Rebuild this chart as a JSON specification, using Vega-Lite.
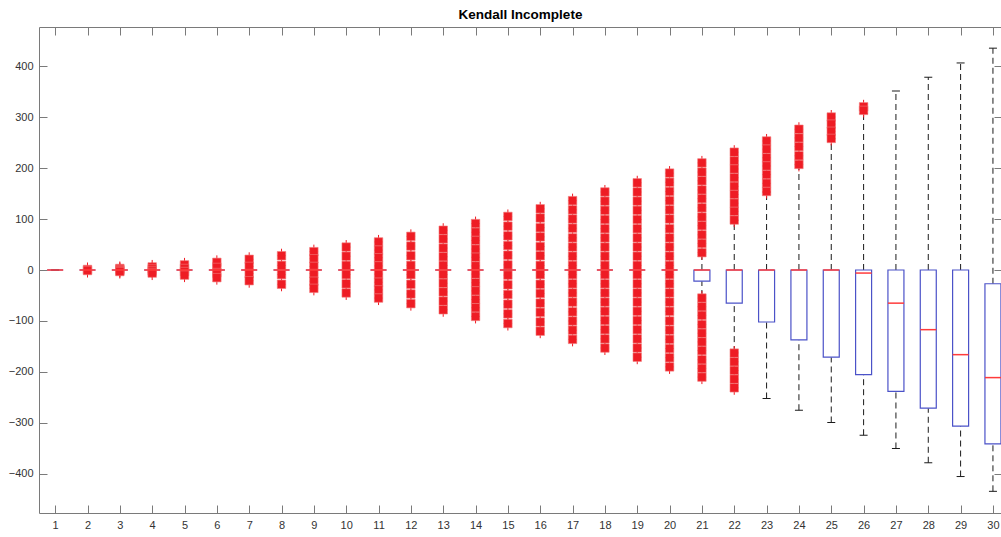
{
  "$schema": "https://vega.github.io/schema/vega-lite/v6.json",
  "width": 963,
  "height": 486,
  "autosize": {"type": "none"},
  "padding": {"left": 39, "top": 27, "right": 0, "bottom": 24},
  "background": "white",
  "title": {"text": "Kendall Incomplete", "font": "Liberation Sans", "fontSize": 13.5, "fontWeight": "bold", "color": "#000000", "anchor": "middle", "offset": 5},
  "config": {
    "view": {"stroke": "#7a7a7a", "strokeWidth": 1},
    "axis": {
      "domain": false,
      "grid": false,
      "tickColor": "#7a7a7a",
      "tickWidth": 1,
      "tickSize": -8,
      "labelFont": "Liberation Sans",
      "labelFontSize": 11,
      "labelColor": "#333333",
      "title": null
    }
  },
  "datasets": {
    "boxes": [
      {"n": 1, "q1": 0, "med": 0, "q3": 0, "lo": 0, "hi": 0},
      {"n": 2, "q1": 0, "med": 0, "q3": 0, "lo": 0, "hi": 0},
      {"n": 3, "q1": 0, "med": 0, "q3": 0, "lo": 0, "hi": 0},
      {"n": 4, "q1": 0, "med": 0, "q3": 0, "lo": 0, "hi": 0},
      {"n": 5, "q1": 0, "med": 0, "q3": 0, "lo": 0, "hi": 0},
      {"n": 6, "q1": 0, "med": 0, "q3": 0, "lo": 0, "hi": 0},
      {"n": 7, "q1": 0, "med": 0, "q3": 0, "lo": 0, "hi": 0},
      {"n": 8, "q1": 0, "med": 0, "q3": 0, "lo": 0, "hi": 0},
      {"n": 9, "q1": 0, "med": 0, "q3": 0, "lo": 0, "hi": 0},
      {"n": 10, "q1": 0, "med": 0, "q3": 0, "lo": 0, "hi": 0},
      {"n": 11, "q1": 0, "med": 0, "q3": 0, "lo": 0, "hi": 0},
      {"n": 12, "q1": 0, "med": 0, "q3": 0, "lo": 0, "hi": 0},
      {"n": 13, "q1": 0, "med": 0, "q3": 0, "lo": 0, "hi": 0},
      {"n": 14, "q1": 0, "med": 0, "q3": 0, "lo": 0, "hi": 0},
      {"n": 15, "q1": 0, "med": 0, "q3": 0, "lo": 0, "hi": 0},
      {"n": 16, "q1": 0, "med": 0, "q3": 0, "lo": 0, "hi": 0},
      {"n": 17, "q1": 0, "med": 0, "q3": 0, "lo": 0, "hi": 0},
      {"n": 18, "q1": 0, "med": 0, "q3": 0, "lo": 0, "hi": 0},
      {"n": 19, "q1": 0, "med": 0, "q3": 0, "lo": 0, "hi": 0},
      {"n": 20, "q1": 0, "med": 0, "q3": 0, "lo": 0, "hi": 0},
      {"n": 21, "q1": -22, "med": 0, "q3": 0, "lo": -51, "hi": 30},
      {"n": 22, "q1": -65, "med": 0, "q3": 0, "lo": -161, "hi": 97},
      {"n": 23, "q1": -102, "med": 0, "q3": 0, "lo": -252, "hi": 152},
      {"n": 24, "q1": -137, "med": 0, "q3": 0, "lo": -275, "hi": 206},
      {"n": 25, "q1": -171, "med": 0, "q3": 0, "lo": -299, "hi": 257},
      {"n": 26, "q1": -205, "med": -6, "q3": 0, "lo": -324, "hi": 307},
      {"n": 27, "q1": -238, "med": -65, "q3": 0, "lo": -350, "hi": 351},
      {"n": 28, "q1": -271, "med": -117, "q3": 0, "lo": -378, "hi": 378},
      {"n": 29, "q1": -306, "med": -166, "q3": 0, "lo": -405, "hi": 406},
      {"n": 30, "q1": -341, "med": -211, "q3": -27, "lo": -434, "hi": 435}
    ],
    "outliers": [
      {"n": 2, "v": 1}, {"n": 2, "v": -1},
      {"n": 3, "v": 3}, {"n": 3, "v": 1}, {"n": 3, "v": -1}, {"n": 3, "v": -3},
      {"n": 4, "v": 6}, {"n": 4, "v": 2}, {"n": 4, "v": -2}, {"n": 4, "v": -6},
      {"n": 5, "v": 10}, {"n": 5, "v": 3}, {"n": 5, "v": -3}, {"n": 5, "v": -10},
      {"n": 6, "v": 15}, {"n": 6, "v": 5}, {"n": 6, "v": -5}, {"n": 6, "v": -15},
      {"n": 7, "v": 21}, {"n": 7, "v": 7}, {"n": 7, "v": -7}, {"n": 7, "v": -21},
      {"n": 8, "v": 28}, {"n": 8, "v": 9}, {"n": 8, "v": -9}, {"n": 8, "v": -28},
      {"n": 9, "v": 36}, {"n": 9, "v": 22}, {"n": 9, "v": 7}, {"n": 9, "v": -7}, {"n": 9, "v": -22}, {"n": 9, "v": -36},
      {"n": 10, "v": 45}, {"n": 10, "v": 27}, {"n": 10, "v": 9}, {"n": 10, "v": -9}, {"n": 10, "v": -27}, {"n": 10, "v": -45},
      {"n": 11, "v": 55}, {"n": 11, "v": 39}, {"n": 11, "v": 24}, {"n": 11, "v": 8}, {"n": 11, "v": -8}, {"n": 11, "v": -24}, {"n": 11, "v": -39}, {"n": 11, "v": -55},
      {"n": 12, "v": 66}, {"n": 12, "v": 47}, {"n": 12, "v": 28}, {"n": 12, "v": 9}, {"n": 12, "v": -9}, {"n": 12, "v": -28}, {"n": 12, "v": -47}, {"n": 12, "v": -66},
      {"n": 13, "v": 78}, {"n": 13, "v": 61}, {"n": 13, "v": 43}, {"n": 13, "v": 26}, {"n": 13, "v": 9}, {"n": 13, "v": -9}, {"n": 13, "v": -26}, {"n": 13, "v": -43}, {"n": 13, "v": -61}, {"n": 13, "v": -78},
      {"n": 14, "v": 91}, {"n": 14, "v": 74}, {"n": 14, "v": 58}, {"n": 14, "v": 41}, {"n": 14, "v": 25}, {"n": 14, "v": 8}, {"n": 14, "v": -8}, {"n": 14, "v": -25}, {"n": 14, "v": -41}, {"n": 14, "v": -58}, {"n": 14, "v": -74}, {"n": 14, "v": -91},
      {"n": 15, "v": 105}, {"n": 15, "v": 86}, {"n": 15, "v": 67}, {"n": 15, "v": 48}, {"n": 15, "v": 29}, {"n": 15, "v": 10}, {"n": 15, "v": -10}, {"n": 15, "v": -29}, {"n": 15, "v": -48}, {"n": 15, "v": -67}, {"n": 15, "v": -86}, {"n": 15, "v": -105},
      {"n": 16, "v": 120}, {"n": 16, "v": 102}, {"n": 16, "v": 83}, {"n": 16, "v": 65}, {"n": 16, "v": 46}, {"n": 16, "v": 28}, {"n": 16, "v": 9}, {"n": 16, "v": -9}, {"n": 16, "v": -28}, {"n": 16, "v": -46}, {"n": 16, "v": -65}, {"n": 16, "v": -83}, {"n": 16, "v": -102}, {"n": 16, "v": -120},
      {"n": 17, "v": 136}, {"n": 17, "v": 118}, {"n": 17, "v": 100}, {"n": 17, "v": 82}, {"n": 17, "v": 63}, {"n": 17, "v": 45}, {"n": 17, "v": 27}, {"n": 17, "v": 9}, {"n": 17, "v": -9}, {"n": 17, "v": -27}, {"n": 17, "v": -45}, {"n": 17, "v": -63}, {"n": 17, "v": -82}, {"n": 17, "v": -100}, {"n": 17, "v": -118}, {"n": 17, "v": -136},
      {"n": 18, "v": 153}, {"n": 18, "v": 135}, {"n": 18, "v": 117}, {"n": 18, "v": 99}, {"n": 18, "v": 81}, {"n": 18, "v": 63}, {"n": 18, "v": 45}, {"n": 18, "v": 27}, {"n": 18, "v": 9}, {"n": 18, "v": -9}, {"n": 18, "v": -27}, {"n": 18, "v": -45}, {"n": 18, "v": -63}, {"n": 18, "v": -81}, {"n": 18, "v": -99}, {"n": 18, "v": -117}, {"n": 18, "v": -135}, {"n": 18, "v": -153},
      {"n": 19, "v": 171}, {"n": 19, "v": 153}, {"n": 19, "v": 135}, {"n": 19, "v": 117}, {"n": 19, "v": 99}, {"n": 19, "v": 81}, {"n": 19, "v": 63}, {"n": 19, "v": 45}, {"n": 19, "v": 27}, {"n": 19, "v": 9}, {"n": 19, "v": -9}, {"n": 19, "v": -27}, {"n": 19, "v": -45}, {"n": 19, "v": -63}, {"n": 19, "v": -81}, {"n": 19, "v": -99}, {"n": 19, "v": -117}, {"n": 19, "v": -135}, {"n": 19, "v": -153}, {"n": 19, "v": -171},
      {"n": 20, "v": 190}, {"n": 20, "v": 172}, {"n": 20, "v": 154}, {"n": 20, "v": 136}, {"n": 20, "v": 118}, {"n": 20, "v": 100}, {"n": 20, "v": 81}, {"n": 20, "v": 63}, {"n": 20, "v": 45}, {"n": 20, "v": 27}, {"n": 20, "v": 9}, {"n": 20, "v": -9}, {"n": 20, "v": -27}, {"n": 20, "v": -45}, {"n": 20, "v": -63}, {"n": 20, "v": -81}, {"n": 20, "v": -100}, {"n": 20, "v": -118}, {"n": 20, "v": -136}, {"n": 20, "v": -154}, {"n": 20, "v": -172}, {"n": 20, "v": -190},
      {"n": 21, "v": 210}, {"n": 21, "v": 192}, {"n": 21, "v": 175}, {"n": 21, "v": 157}, {"n": 21, "v": 140}, {"n": 21, "v": 122}, {"n": 21, "v": 104}, {"n": 21, "v": 87}, {"n": 21, "v": 69}, {"n": 21, "v": 52}, {"n": 21, "v": 34},
      {"n": 21, "v": -55}, {"n": 21, "v": -72}, {"n": 21, "v": -89}, {"n": 21, "v": -107}, {"n": 21, "v": -124}, {"n": 21, "v": -141}, {"n": 21, "v": -158}, {"n": 21, "v": -176}, {"n": 21, "v": -193}, {"n": 21, "v": -210},
      {"n": 22, "v": 231}, {"n": 22, "v": 214}, {"n": 22, "v": 198}, {"n": 22, "v": 181}, {"n": 22, "v": 164}, {"n": 22, "v": 148}, {"n": 22, "v": 131}, {"n": 22, "v": 115}, {"n": 22, "v": 98},
      {"n": 22, "v": -163}, {"n": 22, "v": -180}, {"n": 22, "v": -197}, {"n": 22, "v": -214}, {"n": 22, "v": -231},
      {"n": 23, "v": 253}, {"n": 23, "v": 237}, {"n": 23, "v": 220}, {"n": 23, "v": 204}, {"n": 23, "v": 187}, {"n": 23, "v": 170}, {"n": 23, "v": 154},
      {"n": 24, "v": 276}, {"n": 24, "v": 259}, {"n": 24, "v": 242}, {"n": 24, "v": 224}, {"n": 24, "v": 207},
      {"n": 25, "v": 300}, {"n": 25, "v": 286}, {"n": 25, "v": 272}, {"n": 25, "v": 258},
      {"n": 26, "v": 320}, {"n": 26, "v": 313}
    ]
  },
  "resolve": {"axis": {"x": "independent", "y": "independent"}},
  "layer": [
    {
      "data": {"name": "boxes"},
      "mark": {"type": "rule", "color": "#1a1a1a", "strokeWidth": 1, "strokeDash": [6, 4]},
      "encoding": {
        "x": {"field": "n", "type": "quantitative", "scale": {"domain": [0.5, 30.28], "nice": false, "zero": false, "padding": 0},
              "axis": {"orient": "bottom", "values": [1,2,3,4,5,6,7,8,9,10,11,12,13,14,15,16,17,18,19,20,21,22,23,24,25,26,27,28,29,30], "labelPadding": 14, "format": "d"}},
        "y": {"field": "q3", "type": "quantitative", "scale": {"domain": [-476.5, 476.5], "nice": false, "zero": false, "padding": 0},
              "axis": {"orient": "left", "values": [-400, -300, -200, -100, 0, 100, 200, 300, 400], "labelPadding": 14, "format": "d"}},
        "y2": {"field": "hi"}
      }
    },
    {
      "data": {"name": "boxes"},
      "mark": {"type": "rule", "color": "#1a1a1a", "strokeWidth": 1, "strokeDash": [6, 4]},
      "encoding": {
        "x": {"field": "n", "type": "quantitative",
              "axis": {"orient": "top", "values": [1,2,3,4,5,6,7,8,9,10,11,12,13,14,15,16,17,18,19,20,21,22,23,24,25,26,27,28,29,30], "labels": false}},
        "y": {"field": "lo", "type": "quantitative",
              "axis": {"orient": "right", "values": [-400, -300, -200, -100, 0, 100, 200, 300, 400], "labels": false}},
        "y2": {"field": "q1"}
      }
    },
    {
      "data": {"name": "boxes"},
      "mark": {"type": "tick", "orient": "horizontal", "size": 8, "thickness": 1, "color": "#1a1a1a", "opacity": 1},
      "encoding": {
        "x": {"field": "n", "type": "quantitative", "axis": null},
        "y": {"field": "hi", "type": "quantitative", "axis": null}
      }
    },
    {
      "data": {"name": "boxes"},
      "mark": {"type": "tick", "orient": "horizontal", "size": 8, "thickness": 1, "color": "#1a1a1a", "opacity": 1},
      "encoding": {
        "x": {"field": "n", "type": "quantitative", "axis": null},
        "y": {"field": "lo", "type": "quantitative", "axis": null}
      }
    },
    {
      "data": {"name": "boxes"},
      "mark": {"type": "bar", "orient": "vertical", "size": 16, "fill": "#ffffff", "stroke": "#4b52c8", "strokeWidth": 1.2},
      "encoding": {
        "x": {"field": "n", "type": "quantitative", "axis": null},
        "y": {"field": "q1", "type": "quantitative", "axis": null},
        "y2": {"field": "q3"}
      }
    },
    {
      "data": {"name": "outliers"},
      "mark": {"type": "point", "shape": "M-0.6,0H0.6M0,-1V1", "filled": false, "stroke": "#ee1c24", "strokeWidth": 1, "size": 196, "opacity": 1},
      "encoding": {
        "x": {"field": "n", "type": "quantitative", "axis": null},
        "y": {"field": "v", "type": "quantitative", "axis": null}
      }
    },
    {
      "data": {"name": "outliers"},
      "mark": {"type": "point", "shape": "square", "filled": true, "fill": "#ee1c24", "stroke": "#f27c7c", "strokeWidth": 0.6, "size": 72, "opacity": 1},
      "encoding": {
        "x": {"field": "n", "type": "quantitative", "axis": null},
        "y": {"field": "v", "type": "quantitative", "axis": null}
      }
    },
    {
      "data": {"name": "boxes"},
      "mark": {"type": "tick", "orient": "horizontal", "size": 16, "thickness": 1.5, "color": "#ff3b3b", "opacity": 1},
      "encoding": {
        "x": {"field": "n", "type": "quantitative", "axis": null},
        "y": {"field": "med", "type": "quantitative", "axis": null}
      }
    }
  ]
}
